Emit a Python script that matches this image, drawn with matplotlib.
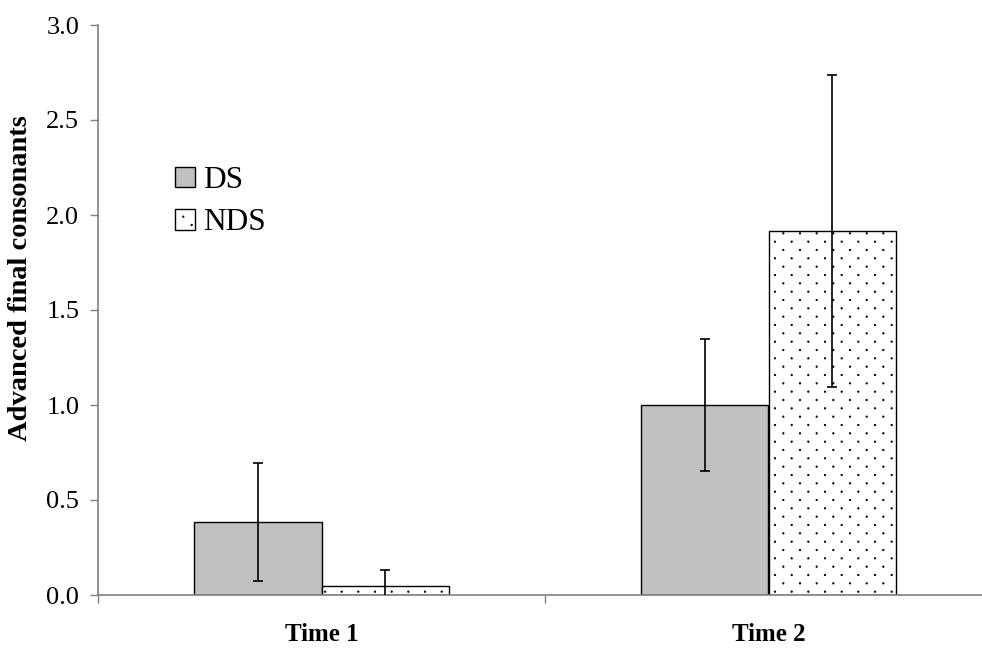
import matplotlib
matplotlib.use("Agg")
import matplotlib.pyplot as plt
import matplotlib.hatch as mhatch
from matplotlib.path import Path
import numpy as np

categories = ["Time 1", "Time 2"]
series = ["DS", "NDS"]
ds_values = [0.385, 1.0]
nds_values = [0.045, 1.915]
ds_err = [0.31, 0.345]
nds_err = [0.085, 0.82]
yticks = [0.0, 0.5, 1.0, 1.5, 2.0, 2.5, 3.0]


# Sparse staggered dot texture (like the Excel "dotted" fill)
class DotHatch(mhatch.HatchPatternBase):
    def __init__(self, hatch, density):
        n = hatch.count('.')
        circ = Path.unit_circle()
        self.sv = circ.vertices
        self.sc = circ.codes
        self.pts = []
        if n > 0:
            ncol, nrow = 6, 12
            for r in range(nrow + 1):
                yy = r / nrow
                if r % 2 == 0:
                    xs = np.linspace(0, 1, ncol + 1)
                else:
                    xs = np.linspace(0.5 / ncol, 1 - 0.5 / ncol, ncol)
                self.pts += [(xx, yy) for xx in xs]
        self.num_vertices = len(self.pts) * len(self.sv)

    def set_vertices_and_codes(self, vertices, codes):
        rad = 0.007
        k = len(self.sv)
        for i, (xx, yy) in enumerate(self.pts):
            vertices[i * k:(i + 1) * k] = self.sv * rad + np.array([xx, yy])
            codes[i * k:(i + 1) * k] = self.sc


mhatch._hatch_types[:] = [DotHatch if t is mhatch.SmallFilledCircles else t
                          for t in mhatch._hatch_types]

plt.rcParams['font.family'] = ['Liberation Serif', 'DejaVu Serif']
plt.rcParams['hatch.color'] = '#333333'
plt.rcParams['hatch.linewidth'] = 0.6

fig = plt.figure(figsize=(9.82, 6.48), dpi=100)
ax = fig.add_axes([98/982, (648-595)/648, (992-98)/982, (595-25)/648])

x = np.arange(len(categories))
w = 0.286
ax.bar(x - w/2, ds_values, w, color='#C0C0C0', edgecolor='black', linewidth=1.0,
       label=series[0], zorder=2)
ax.bar(x + w/2, nds_values, w, color='white', edgecolor='black', linewidth=1.0,
       hatch='.', label=series[1], zorder=2)
ax.errorbar(x - w/2, ds_values, yerr=ds_err, fmt='none', ecolor='black',
            elinewidth=1.2, capsize=3.6, capthick=1.2, zorder=3)
ax.errorbar(x + w/2, nds_values, yerr=nds_err, fmt='none', ecolor='black',
            elinewidth=1.2, capsize=3.6, capthick=1.2, zorder=3)

ax.set_xlim(-0.5, 1.5)
ax.set_ylim(0, 3.0)
ax.set_yticks(yticks)
ax.set_yticklabels([f"{v:.1f}" for v in yticks], fontsize=19)
ax.set_xticks([-0.5, 0.5, 1.5])
ax.set_xticklabels([])
ax.set_xticks(x, minor=True)
ax.set_xticklabels(categories, minor=True, fontsize=18, fontweight='bold')
ax.tick_params(axis='x', which='minor', length=0, pad=20)
ax.tick_params(axis='x', which='major', length=6, width=1, color='#808080', direction='out')
ax.tick_params(axis='y', length=6, width=1, color='#808080', direction='out', pad=7.5)

for s in ['top', 'right']:
    ax.spines[s].set_visible(False)
for s in ['left', 'bottom']:
    ax.spines[s].set_color('#808080')
    ax.spines[s].set_linewidth(1.2)

ax.set_ylabel("Advanced final consonants", fontsize=20.5, fontweight='bold')
ax.yaxis.set_label_coords((33 - 98) / 894, (595 - 278) / 570)

leg = ax.legend(loc='upper left', bbox_to_anchor=(175/982, 1 - 166/648),
                bbox_transform=fig.transFigure, frameon=False, fontsize=22.5,
                handlelength=0.65, handleheight=0.65, handletextpad=0.25,
                labelspacing=0.43, borderpad=0, borderaxespad=0)

fig.savefig("out.png", dpi=100)
